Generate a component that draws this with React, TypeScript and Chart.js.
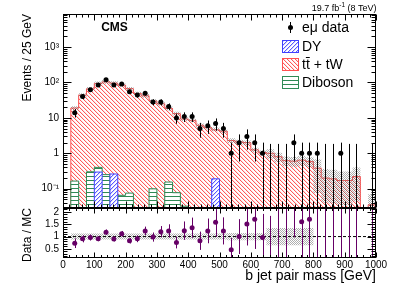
import React, { useEffect, useRef } from 'react';
import { Chart, registerables } from 'chart.js';

const FONT = '"Liberation Sans", Arial, Helvetica, sans-serif';

// ---- data ----
const binLow = [25, 50, 75, 100, 125, 150, 175, 200, 225, 250, 275, 300, 325, 350, 375, 400, 425, 450, 475, 500, 525, 550, 575, 600, 625, 650, 675, 700, 725, 750, 775, 800, 825, 850, 875, 900, 925, 950, 975];
const binHigh = 1000;
const binHalfWidth = 12.5;

const dataCounts: (number | null)[] = [14, 40, 62, 85, 119, 85, 90, 55, 44, 50, 28, 28, 21, 10, 11, 11, 5, 6, 7, 5, 1, 2, 3, 2, 1, 0, 0, 0, 2, 1, 1, 1, 0, 0, 1, 0, 0, null, 0];
const ttbarTW = [19, 44, 66, 94, 104, 96, 84, 67, 49, 42, 30, 25, 18.5, 13.2, 9.3, 8.5, 6.2, 5.3, 4.6, 4.2, 2.3, 2.1, 2.0, 1.25, 1.05, 1.0, 0.8, 0.62, 0.6, 0.64, 0.59, 0.38, 0.2, 0.19, 0.17, 0.17, 0.22, 0, 0.035];
const drellYan = [0, 0, 0, 0.295, 0, 0.26, 0, 0, 0, 0, 0, 0, 0, 0, 0, 0, 0, 0, 0.19, 0, 0, 0, 0, 0, 0, 0, 0, 0, 0, 0, 0, 0, 0, 0, 0, 0, 0, 0, 0];
const diboson = [0.164, 0, 0.30, 0.40, 0.25, 0, 0.065, 0.075, 0, 0, 0.099, 0, 0.154, 0.077, 0.032, 0, 0, 0, 0, 0, 0, 0, 0, 0, 0, 0, 0, 0, 0, 0, 0, 0, 0, 0, 0, 0, 0, 0, 0];
const mcRelUnc = [0.12, 0.12, 0.12, 0.12, 0.12, 0.12, 0.12, 0.12, 0.12, 0.12, 0.12, 0.12, 0.12, 0.12, 0.12, 0.12, 0.12, 0.12, 0.12, 0.12, 0.15, 0.15, 0.15, 0.15, 0.15, 0.3, 0.3, 0.3, 0.3, 0.3, 0.3, 0.8, 0.8, 0.8, 0.8, 0.8, 0.8, 0, 1.0];
const dataOverMC: (number | null)[] = [0.73, 0.91, 0.96, 0.91, 1.18, 0.90, 1.11, 0.83, 0.91, 1.23, 0.98, 1.20, 1.23, 0.76, 1.24, 1.36, 0.83, 1.23, 1.58, 1.23, 0.47, 1.00, 1.51, 1.70, 0.96, 0, 0, 0, 3.3, 1.6, 1.7, 2.9, 0, 0, 5.9, 0, 0, null, 0];
const ratioBandUnc = [0.12, 0.12, 0.12, 0.12, 0.12, 0.12, 0.12, 0.12, 0.12, 0.12, 0.12, 0.12, 0.12, 0.12, 0.12, 0.12, 0.12, 0.12, 0.12, 0.12, 0.15, 0.15, 0.15, 0.15, 0.15, 0.35, 0.35, 0.35, 0.35, 0.35, 0.35, 0, 0, 0, 0, 0, 0, 0, 0];
const zeroCountUpper = 1.84;

const xTickValues = [0, 100, 200, 300, 400, 500, 600, 700, 800, 900, 1000];
const xTickLabels = ['0', '100', '200', '300', '400', '500', '600', '700', '800', '900', '1000'];
const yMainTickValues = [0.1, 1, 10, 100, 1000];
const yMainTickLabels = ['10\u207B\u00B9', '1', '10', '10\u00B2', '10\u00B3'];
const yRatioTickValues = [0.5, 1, 1.5, 2];
const yRatioTickLabels = ['0.5', '1', '1.5', '2'];

const legendLabels = ['e\u03BC data', 'DY', 'tt + tW', 'Diboson'];

// empty bins on the log axis are drawn far below the visible range (then clipped)
const LOG_FLOOR = 1e-5;

// ---- helpers ----
function histPoints(vals: (number | null)[], floor: number) {
  const f = (v: number | null) => (v === null || v <= 0 ? floor : v);
  const pts: { x: number; y: number }[] = [{ x: binLow[0], y: floor }];
  vals.forEach((v, j) => pts.push({ x: binLow[j], y: f(v) }));
  pts.push({ x: binHigh, y: f(vals[vals.length - 1]) });
  pts.push({ x: binHigh, y: floor });
  return pts;
}

function makePattern(kind: string): CanvasPattern | string {
  const c = document.createElement('canvas');
  const s = 4;
  c.width = s; c.height = s;
  const x = c.getContext('2d');
  if (!x) return '#fff';
  if (kind === 'ttbar') {
    for (let i = 0; i < s; i++) {
      x.fillStyle = '#ff5a5a'; x.fillRect(i, i, 1, 1);
      x.fillStyle = 'rgba(255,90,90,0.18)'; x.fillRect((i + 1) % s, i, 1, 1);
    }
  } else if (kind === 'dy') {
    x.fillStyle = '#fff'; x.fillRect(0, 0, s, s);
    for (let i = 0; i < s; i++) {
      x.fillStyle = '#5a5aff'; x.fillRect(s - 1 - i, i, 1, 1);
      x.fillStyle = 'rgba(90,90,255,0.25)'; x.fillRect((s - i) % s, i, 1, 1);
    }
  } else if (kind === 'diboson') {
    x.fillStyle = '#fff'; x.fillRect(0, 0, s, s);
    x.fillStyle = '#2f8a55'; x.fillRect(0, 0, s, 1);
  } else {
    c.width = 2; c.height = 2;
    x.fillStyle = 'rgba(110,110,110,0.55)';
    x.fillRect(0, 0, 1, 1); x.fillRect(1, 1, 1, 1);
  }
  return x.createPattern(c, 'repeat') || '#ccc';
}

// clip each dataset to its own panel
const panelClip = {
  id: 'panelClip',
  beforeDatasetDraw(chart: any, args: any) {
    const ctx = chart.ctx;
    ctx.save();
    const ys = chart.scales[args.meta.yAxisID];
    const a = chart.chartArea;
    if (ys && a) {
      ctx.beginPath();
      ctx.rect(a.left, ys.top, a.right - a.left, ys.bottom - ys.top);
      ctx.clip();
    }
  },
  afterDatasetDraw(chart: any) {
    chart.ctx.restore();
  },
};

Chart.register(panelClip);
Chart.register(...registerables);

function drawText(ctx: CanvasRenderingContext2D, t: string, x: number, y: number, font: string, align: CanvasTextAlign = 'left') {
  ctx.font = font;
  ctx.textAlign = align;
  ctx.textBaseline = 'middle';
  ctx.fillText(t, x, y);
}

export default function App() {
  const ref = useRef<HTMLCanvasElement>(null);

  useEffect(() => {
    if (!ref.current) return;
    const redPat = makePattern('ttbar');
    const bluePat = makePattern('dy');
    const greenPat = makePattern('diboson');
    const grayPat = makePattern('band');

    const mcTotal = ttbarTW.map((v, j) => v + drellYan[j] + diboson[j]);

    const decor = {
      id: 'cmsDecor',
      afterDatasetsDraw(chart: any) {
        const ctx: CanvasRenderingContext2D = chart.ctx;
        const xs = chart.scales.x, ym = chart.scales.y, yr = chart.scales.yr;
        const a = chart.chartArea;
        const L = a.left, R = a.right;
        const px = (v: number) => Math.round(xs.getPixelForValue(v)) + 0.5;

        // data error bars (main)
        ctx.save();
        ctx.beginPath(); ctx.rect(L, ym.top, R - L, ym.bottom - ym.top); ctx.clip();
        ctx.strokeStyle = '#000'; ctx.lineWidth = 1;
        dataCounts.forEach((n, j) => {
          if (n === null) return;
          const x = px(binLow[j] + binHalfWidth);
          const e = Math.sqrt(n);
          const lo = n > 0 ? Math.max(n - e, LOG_FLOOR) : LOG_FLOOR;
          const hi = n > 0 ? n + e : zeroCountUpper;
          ctx.beginPath(); ctx.moveTo(x, ym.getPixelForValue(lo)); ctx.lineTo(x, ym.getPixelForValue(hi)); ctx.stroke();
        });
        ctx.restore();

        // ratio error bars
        ctx.save();
        ctx.beginPath(); ctx.rect(L, yr.top, R - L, yr.bottom - yr.top); ctx.clip();
        ctx.strokeStyle = '#660066'; ctx.lineWidth = 1;
        dataOverMC.forEach((r, j) => {
          const n = dataCounts[j];
          if (r === null || n === null) return;
          let lo = 0, hi = 0;
          if (n > 0) { const e = r / Math.sqrt(n); lo = r - e; hi = r + e; }
          else { lo = -1; hi = mcTotal[j] > 0 ? zeroCountUpper / mcTotal[j] : 10; }
          const x = px(binLow[j] + binHalfWidth);
          ctx.beginPath(); ctx.moveTo(x, yr.getPixelForValue(lo)); ctx.lineTo(x, yr.getPixelForValue(hi)); ctx.stroke();
        });
        ctx.restore();

        // frames and ticks
        ctx.save();
        ctx.strokeStyle = '#000'; ctx.lineWidth = 1;
        const panels = [
          { top: Math.round(ym.top) + 0.5, bot: Math.round(ym.bottom) - 0.5 },
          { top: Math.round(yr.top) + 0.5, bot: Math.round(yr.bottom) - 0.5 },
        ];
        const l = Math.round(L) + 0.5, r = Math.round(R) - 0.5;
        panels.forEach((p, pi) => {
          ctx.strokeRect(l, p.top, r - l, p.bot - p.top);
          ctx.beginPath();
          for (let v = 0; v <= 1000; v += 20) {
            const x = px(v);
            const len = v % 100 === 0 ? (pi === 0 ? 6 : 5) : (pi === 0 ? 3 : 2.5);
            ctx.moveTo(x, p.bot); ctx.lineTo(x, p.bot - len);
            ctx.moveTo(x, p.top); ctx.lineTo(x, p.top + len);
          }
          ctx.stroke();
        });
        // main y ticks (log)
        ctx.beginPath();
        for (let d = -2; d <= 4; d++) {
          for (let k = 1; k <= 9; k++) {
            const v = k * Math.pow(10, d);
            if (v < ym.min || v > ym.max) continue;
            const y = Math.round(ym.getPixelForValue(v)) + 0.5;
            const len = k === 1 ? 8 : 4;
            ctx.moveTo(l, y); ctx.lineTo(l + len, y);
            ctx.moveTo(r, y); ctx.lineTo(r - len, y);
          }
        }
        // ratio y ticks
        for (let i = 2; i <= 21; i++) {
          const v = i / 10;
          if (v < yr.min || v > yr.max) continue;
          const y = Math.round(yr.getPixelForValue(v)) + 0.5;
          const len = i % 5 === 0 ? 8 : 4;
          ctx.moveTo(l, y); ctx.lineTo(l + len, y);
          ctx.moveTo(r, y); ctx.lineTo(r - len, y);
        }
        ctx.stroke();
        ctx.restore();
      },
      afterDraw(chart: any) {
        const ctx: CanvasRenderingContext2D = chart.ctx;
        ctx.save();
        ctx.fillStyle = '#000';
        drawText(ctx, 'CMS', 114.5, 27.5, `bold 12px ${FONT}`, 'center');
        const f1 = `9px ${FONT}`, f2 = `6.5px ${FONT}`;
        const p1 = '19.7 fb', p2 = '-1', p3 = ' (8 TeV)';
        ctx.font = f1; const w1 = ctx.measureText(p1).width; const w3 = ctx.measureText(p3).width;
        ctx.font = f2; const w2 = ctx.measureText(p2).width;
        let xx = 376.5 - (w1 + w2 + w3);
        drawText(ctx, p1, xx, 8.5, f1); xx += w1;
        drawText(ctx, p2, xx, 5.5, f2); xx += w2;
        drawText(ctx, p3, xx, 8.5, f1);

        const lf = `14px ${FONT}`;
        const tx = 302;
        ctx.strokeStyle = '#000'; ctx.lineWidth = 1;
        ctx.beginPath(); ctx.moveTo(290.5, 22); ctx.lineTo(290.5, 33); ctx.stroke();
        ctx.beginPath(); ctx.arc(290.5, 27.5, 2.5, 0, Math.PI * 2); ctx.fill();
        drawText(ctx, legendLabels[0], tx, 28, lf);
        const boxes = [
          { y: 40, fill: bluePat, stroke: '#4040ff', label: legendLabels[1] },
          { y: 58, fill: redPat, stroke: '#ff5050', label: legendLabels[2] },
          { y: 76, fill: greenPat, stroke: '#2f8a55', label: legendLabels[3] },
        ];
        boxes.forEach((b, i) => {
          ctx.fillStyle = '#fff'; ctx.fillRect(282, b.y, 17, 13);
          ctx.fillStyle = b.fill as any; ctx.fillRect(282, b.y, 17, 13);
          ctx.strokeStyle = b.stroke; ctx.lineWidth = 1; ctx.strokeRect(282.5, b.y + 0.5, 16, 12);
          ctx.fillStyle = '#000';
          drawText(ctx, b.label, tx, b.y + 7, lf);
          if (i === 1) {
            ctx.font = lf;
            const wt = ctx.measureText('t').width;
            ctx.beginPath(); ctx.moveTo(tx + wt, b.y - 0.5); ctx.lineTo(tx + 2 * wt, b.y - 0.5);
            ctx.strokeStyle = '#000'; ctx.stroke();
          }
        });
        ctx.restore();
      },
    };

    const dataPts = dataCounts.map((n, j) => ({ x: binLow[j] + binHalfWidth, y: n === null || n === 0 ? null : n }));
    const ratioPts = dataOverMC.map((r, j) => ({ x: binLow[j] + binHalfWidth, y: r === null || r === 0 ? null : r }));
    const stepBase = { stepped: true, pointRadius: 0, tension: 0 } as any;

    const chart = new Chart(ref.current, {
      type: 'line',
      data: {
        datasets: [
          { ...stepBase, label: 'ttbar', data: histPoints(ttbarTW, LOG_FLOOR), yAxisID: 'y', borderColor: '#ff5050', borderWidth: 1, backgroundColor: redPat, fill: 'start', order: 10 },
          { ...stepBase, label: 'bandLo', data: histPoints(mcTotal.map((v, j) => v * (1 - mcRelUnc[j])), LOG_FLOOR), yAxisID: 'y', borderColor: 'transparent', borderWidth: 0, fill: false, order: 9 },
          { ...stepBase, label: 'bandHi', data: histPoints(mcTotal.map((v, j) => v * (1 + mcRelUnc[j])), LOG_FLOOR), yAxisID: 'y', borderColor: 'transparent', borderWidth: 0, backgroundColor: grayPat, fill: '-1', order: 8 },
          { ...stepBase, label: 'diboson', data: histPoints(diboson, LOG_FLOOR), yAxisID: 'y', borderColor: '#2f8a55', borderWidth: 1, backgroundColor: greenPat, fill: 'start', order: 7 },
          { ...stepBase, label: 'dy', data: histPoints(drellYan, LOG_FLOOR), yAxisID: 'y', borderColor: '#4040ff', borderWidth: 1, backgroundColor: bluePat, fill: 'start', order: 6 },
          { label: 'data', data: dataPts, yAxisID: 'y', showLine: false, pointRadius: 2.5, pointBackgroundColor: '#000', pointBorderColor: '#000', pointBorderWidth: 0, order: 1 },
          { ...stepBase, label: 'rBandLo', data: histPoints(ratioBandUnc.map((u) => 1 - u), 1), yAxisID: 'yr', borderColor: 'transparent', borderWidth: 0, fill: false, order: 5 },
          { ...stepBase, label: 'rBandHi', data: histPoints(ratioBandUnc.map((u) => 1 + u), 1), yAxisID: 'yr', borderColor: 'transparent', borderWidth: 0, backgroundColor: grayPat, fill: '-1', order: 5 },
          { label: 'unity', data: [{ x: 0, y: 1 }, { x: 1000, y: 1 }], yAxisID: 'yr', borderColor: '#000', borderWidth: 1, borderDash: [3, 2], pointRadius: 0, fill: false, order: 4 },
          { label: 'ratio', data: ratioPts, yAxisID: 'yr', showLine: false, pointRadius: 2.5, pointBackgroundColor: '#660066', pointBorderColor: '#660066', pointBorderWidth: 0, order: 1 },
        ] as any,
      },
      options: {
        responsive: false,
        animation: false,
        devicePixelRatio: 1,
        events: [],
        layout: { padding: { left: 0, top: 14, right: 23, bottom: 0 } },
        plugins: { legend: { display: false }, tooltip: { enabled: false }, colors: { enabled: false } } as any,
        scales: {
          x: {
            type: 'linear', min: 0, max: 1000, position: 'bottom',
            afterFit: (s: any) => { s.height = 29; },
            afterBuildTicks: (s: any) => { s.ticks = xTickValues.map((v) => ({ value: v })); },
            ticks: { autoSkip: false, maxRotation: 0, padding: 1, color: '#000', font: { family: FONT, size: 10 }, callback: (_v: any, i: number) => xTickLabels[i] },
            grid: { display: false, drawTicks: false }, border: { display: false },
            title: { display: true, text: 'b jet pair mass [GeV]', align: 'end', color: '#000', font: { family: FONT, size: 14 }, padding: { top: 0, bottom: 2 } },
          },
          yr: {
            type: 'linear', position: 'left', stack: 'panels', stackWeight: 50, min: 0.13, max: 2.16,
            afterFit: (s: any) => { s.width = 63; },
            afterBuildTicks: (s: any) => { s.ticks = yRatioTickValues.map((v) => ({ value: v })); },
            ticks: { autoSkip: false, padding: 4, color: '#000', font: { family: FONT, size: 10 }, callback: (_v: any, i: number) => yRatioTickLabels[i] },
            grid: { display: false, drawTicks: false }, border: { display: false },
            title: { display: true, text: 'Data / MC', align: 'end', color: '#000', font: { family: FONT, size: 12 }, padding: { top: 20, bottom: 0 } },
          },
          y: {
            type: 'logarithmic', position: 'left', stack: 'panels', stackWeight: 194, min: 0.0285, max: 8600,
            afterFit: (s: any) => { s.width = 63; },
            afterBuildTicks: (s: any) => { s.ticks = yMainTickValues.map((v) => ({ value: v })); },
            ticks: { autoSkip: false, padding: 4, color: '#000', font: { family: FONT, size: 10 }, callback: (_v: any, i: number) => yMainTickLabels[i] },
            grid: { display: false, drawTicks: false }, border: { display: false },
            title: { display: true, text: 'Events / 25 GeV', align: 'end', color: '#000', font: { family: FONT, size: 12 }, padding: { top: 20, bottom: 0 } },
          },
        } as any,
      },
      plugins: [decor as any],
    });
    return () => chart.destroy();
  }, []);

  return (
    <div style={{ position: 'fixed', left: 0, top: 0, width: 399, height: 287, background: '#fff' }}>
      <canvas ref={ref} width={399} height={287} style={{ display: 'block', width: 399, height: 287 }} />
    </div>
  );
}
